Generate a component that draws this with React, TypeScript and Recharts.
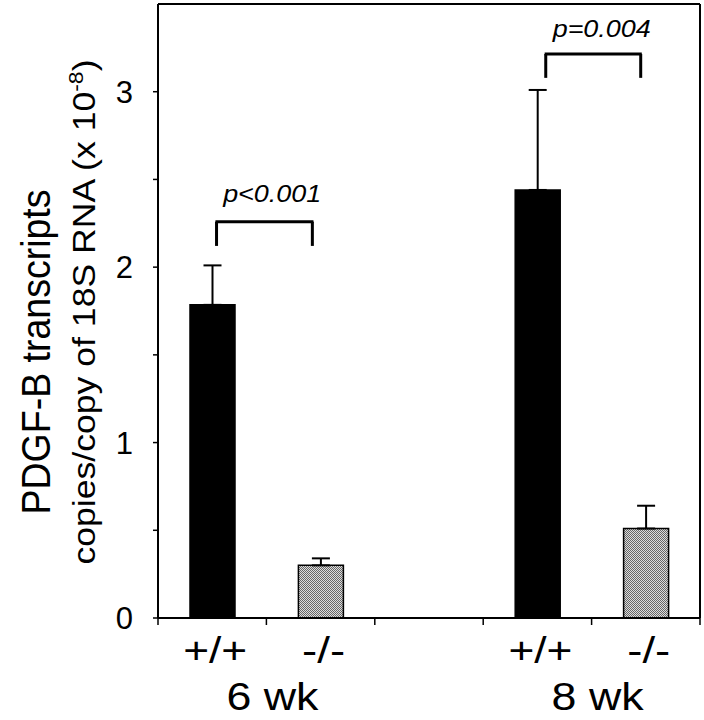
import {
  BarChart, Bar, XAxis, YAxis, Cell, ErrorBar, ReferenceLine, ReferenceDot,
} from "recharts";

// ─── Data ─────────────────────────────────────────────────────────────────────

const genotypeLabels = ["+/+", "-/-", "", "+/+", "-/-"];
const ageLabels = ["6 wk", "", "", "8 wk", ""];
const means = [1.785, 0.3, null, 2.44, 0.51];
const sems = [0.225, 0.04, null, 0.57, 0.13];

const yTicks = [0, 0.5, 1, 1.5, 2, 2.5, 3];
const yMax = 3.5;
const xMax = genotypeLabels.length;
// band edges (integers) + band centres (halves)
const xTicks = [0, 0.5, 1, 1.5, 2, 2.5, 3, 3.5, 4, 4.5, 5];

// significance brackets, in axis units (x: band units 0..5, y: value)
const bracketLeft = [0.54, 3.577];
const bracketRight = [1.424, 4.453];
const bracketTop = [2.259, 3.215];
const bracketFoot = [2.121, 3.079];
const pLabels = ["p<0.001", "p=0.004"];
const pX = [1.053, 4.093];
const pY = [2.372, 3.312];

const data = genotypeLabels.map((g, i) => ({
  pos: i + 0.5,
  mean: means[i],
  err: sems[i] == null ? null : [0, sems[i]],
}));

// ─── Helpers ──────────────────────────────────────────────────────────────────

const FONT = "'Liberation Sans', Arial, Helvetica, sans-serif";

function XTick({ x, y, payload }: any) {
  const v = payload.value;
  if (Number.isInteger(v)) {
    const age = ageLabels[v - 1];
    return (
      <g>
        <line x1={x} x2={x} y1={y} y2={y + 7} stroke="#000" strokeWidth={1.5} />
        {age && (
          <text
            x={x + 6}
            y={y + 92}
            textAnchor="middle"
            fontFamily={FONT}
            fontSize={38}
            textLength={92}
            lengthAdjust="spacingAndGlyphs"
            fill="#000"
          >
            {age}
          </text>
        )}
      </g>
    );
  }
  const geno = genotypeLabels[Math.floor(v)];
  if (!geno) return <g />;
  return (
    <text
      x={x + 3}
      y={y + 45}
      textAnchor="middle"
      fontFamily={FONT}
      fontSize={36}
      textLength={geno === "+/+" ? 64 : 43}
      lengthAdjust="spacingAndGlyphs"
      fill="#000"
    >
      {geno}
    </text>
  );
}

function YTitle() {
  return (
    <g fontFamily={FONT} fill="#000">
      <text
        transform="translate(50, 352) rotate(-90)"
        textAnchor="middle"
        fontSize={40}
        textLength={325}
        lengthAdjust="spacingAndGlyphs"
      >
        PDGF-B transcripts
      </text>
      <text
        transform="translate(95, 312) rotate(-90)"
        textAnchor="middle"
        fontSize={31}
        textLength={505}
        lengthAdjust="spacingAndGlyphs"
      >
        copies/copy of 18S RNA (x 10
        <tspan dy={-12} fontSize={20}>-8</tspan>
        <tspan dy={12}>)</tspan>
      </text>
    </g>
  );
}

function PText({ cx, cy, text }: any) {
  return (
    <text
      x={cx}
      y={cy}
      textAnchor="middle"
      fontFamily={FONT}
      fontStyle="italic"
      fontSize={24}
      textLength={98}
      lengthAdjust="spacingAndGlyphs"
      fill="#000"
    >
      {text}
    </text>
  );
}

// ─── Chart ────────────────────────────────────────────────────────────────────

export default function App() {
  return (
    <div style={{ position: "absolute", left: 0, top: 0, width: 704, height: 720, background: "#fff" }}>
      <svg width={0} height={0} style={{ position: "absolute" }}>
        <defs>
          <pattern id="stipple" width={2} height={2} patternUnits="userSpaceOnUse">
            <rect width={2} height={2} fill="#dcdcdc" />
            <rect width={1} height={1} fill="#666" />
            <rect x={1} y={1} width={1} height={1} fill="#666" />
          </pattern>
        </defs>
      </svg>
      <BarChart
        width={704}
        height={720}
        data={data}
        margin={{ top: 4, right: 4, left: 0, bottom: 0 }}
      >
        <XAxis
          dataKey="pos"
          type="number"
          domain={[0, xMax]}
          ticks={xTicks}
          interval={0}
          allowDataOverflow
          height={102}
          tickLine={false}
          tickSize={0}
          tickMargin={0}
          axisLine={{ stroke: "#000", strokeWidth: 2 }}
          tick={<XTick />}
        />
        <YAxis
          width={158}
          domain={[0, yMax]}
          ticks={yTicks}
          allowDataOverflow
          tickSize={5}
          tickMargin={20}
          tickFormatter={(v: number) => (Number.isInteger(v) ? String(v) : "")}
          tick={{ fill: "#000", fontSize: 31, fontFamily: FONT }}
          tickLine={{ stroke: "#000", strokeWidth: 1.5 }}
          axisLine={{ stroke: "#000", strokeWidth: 2 }}
          label={{ content: () => <YTitle /> }}
        />
        {/* frame: top and right edges */}
        <ReferenceLine y={yMax} stroke="#000" strokeWidth={2} ifOverflow="visible" />
        <ReferenceLine x={xMax} stroke="#000" strokeWidth={2} ifOverflow="visible" />
        <Bar dataKey="mean" barSize={45} isAnimationActive={false}>
          {data.map((d, i) => (
            <Cell
              key={i}
              fill={genotypeLabels[i] === "+/+" ? "#000" : "url(#stipple)"}
              stroke="#000"
              strokeWidth={1.5}
            />
          ))}
          <ErrorBar
            dataKey="err"
            direction="y"
            width={9}
            stroke="#000"
            strokeWidth={2}
            isAnimationActive={false}
          />
        </Bar>
        {pLabels.map((label, i) => (
          <ReferenceLine
            key={`l${i}`}
            ifOverflow="visible"
            segment={[{ x: bracketLeft[i], y: bracketFoot[i] }, { x: bracketLeft[i], y: bracketTop[i] }]}
            stroke="#000"
            strokeWidth={3}
          />
        ))}
        {pLabels.map((label, i) => (
          <ReferenceLine
            key={`t${i}`}
            ifOverflow="visible"
            segment={[{ x: bracketLeft[i] - 0.01, y: bracketTop[i] }, { x: bracketRight[i] + 0.01, y: bracketTop[i] }]}
            stroke="#000"
            strokeWidth={3}
          />
        ))}
        {pLabels.map((label, i) => (
          <ReferenceLine
            key={`r${i}`}
            ifOverflow="visible"
            segment={[{ x: bracketRight[i], y: bracketTop[i] }, { x: bracketRight[i], y: bracketFoot[i] }]}
            stroke="#000"
            strokeWidth={3}
          />
        ))}
        {pLabels.map((label, i) => (
          <ReferenceDot
            key={`p${i}`}
            x={pX[i]}
            y={pY[i]}
            r={1}
            ifOverflow="visible"
            shape={(props: any) => <PText cx={props.cx} cy={props.cy} text={label} />}
          />
        ))}
      </BarChart>
    </div>
  );
}
